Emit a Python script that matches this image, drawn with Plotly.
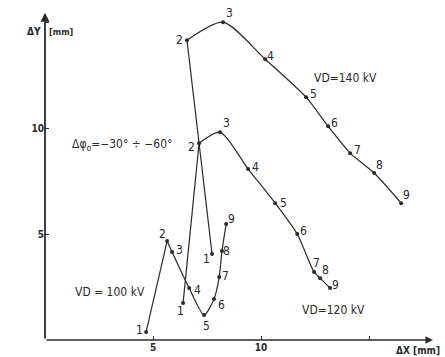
import plotly.graph_objects as go

# ---- data ----
point_ids = [1, 2, 3, 4, 5, 6, 7, 8, 9]

vd100_x = [4.68, 5.65, 5.88, 6.67, 7.36, 7.82, 8.06, 8.19, 8.38]
vd100_y = [0.38, 4.67, 4.15, 2.45, 1.18, 1.93, 2.97, 4.20, 5.47]

vd120_x = [6.39, 7.13, 8.10, 9.40, 10.65, 11.67, 12.45, 12.73, 13.19]
vd120_y = [1.75, 9.29, 9.81, 8.07, 6.46, 5.00, 3.21, 2.92, 2.45]

vd140_x = [7.73, 6.57, 8.24, 10.19, 12.08, 13.10, 14.12, 15.23, 16.48]
vd140_y = [4.06, 14.15, 15.00, 13.25, 11.46, 10.09, 8.82, 7.88, 6.46]

x_tickvals = [5, 10, 15]
x_ticktext = ["<b>5</b>", "<b>10</b>", ""]
y_tickvals = [5, 10, 15]
y_ticktext = ["<b>5</b>", "<b>10</b>", ""]

# label offsets in pixels (dx, dy screen, dy down positive)
off100 = [(-7, -2), (-5, -7), (7, -2), (8, 2), (2, 11), (7, 6), (6, -1), (5, 0), (5, -5)]
off120 = [(-3, 8), (-8, 4), (6, -9), (7, -2), (8, 0), (6, -3), (2, -9), (5, -8), (5, -3)]
off140 = [(-6, 5), (-7, 0), (6, -9), (5, -3), (7, -3), (6, -3), (7, -3), (5, -8), (5, -8)]

# index where each curve's smooth part begins (straight segment before it)
smooth_from = [2, 1, 1]

INK = "#2a2a2a"
FONT = "DejaVu Sans Condensed, DejaVu Sans, Arial"

fig = go.Figure()
for (xs, ys), k in zip([(vd100_x, vd100_y), (vd120_x, vd120_y), (vd140_x, vd140_y)], smooth_from):
    fig.add_trace(go.Scatter(
        x=xs[:k + 1], y=ys[:k + 1], mode="lines",
        line=dict(color=INK, width=1.2),
        showlegend=False, hoverinfo="skip"))
    fig.add_trace(go.Scatter(
        x=xs[k:], y=ys[k:], mode="lines",
        line=dict(color=INK, width=1.2, shape="spline", smoothing=0.7),
        showlegend=False, hoverinfo="skip"))
    fig.add_trace(go.Scatter(
        x=xs, y=ys, mode="markers",
        marker=dict(color=INK, size=4),
        showlegend=False, hoverinfo="skip"))

ann = []
for xs, ys, offs in [(vd100_x, vd100_y, off100), (vd120_x, vd120_y, off120), (vd140_x, vd140_y, off140)]:
    for pid, x, y, (dx, dy) in zip(point_ids, xs, ys, offs):
        ann.append(dict(x=x, y=y, text=str(pid), showarrow=False,
                        xshift=dx, yshift=-dy,
                        font=dict(size=12, color=INK, family=FONT)))

# axes arrows
ann.append(dict(x=17.95, y=0, ax=0, ay=0, axref="x", ayref="y", xref="x", yref="y",
                showarrow=True, arrowhead=2, arrowsize=1, arrowwidth=1.5, arrowcolor=INK, text=""))
ann.append(dict(x=0, y=15.45, ax=0, ay=0, axref="x", ayref="y", xref="x", yref="y",
                showarrow=True, arrowhead=2, arrowsize=1, arrowwidth=1.8, arrowcolor=INK, text=""))

# axis titles
ann.append(dict(x=0, y=14.55, text="<b>ΔY</b>", showarrow=False, xanchor="right", xshift=-2,
                font=dict(size=10, color=INK, family=FONT)))
ann.append(dict(x=0, y=14.55, text="<b>[mm]</b>", showarrow=False, xanchor="left", xshift=2,
                font=dict(size=9, color=INK, family=FONT)))
ann.append(dict(x=17.25, y=0, text="<b>ΔX [mm]</b>", showarrow=False, yshift=-10,
                font=dict(size=10, color=INK, family=FONT)))

# series / condition texts
ann.append(dict(x=13.9, y=12.35, text="VD=140 kV", showarrow=False,
                font=dict(size=12, color=INK, family=FONT)))
ann.append(dict(x=13.35, y=1.4, text="VD=120 kV", showarrow=False,
                font=dict(size=12, color=INK, family=FONT)))
ann.append(dict(x=3.0, y=2.26, text="VD = 100 kV", showarrow=False,
                font=dict(size=12, color=INK, family=FONT)))
ann.append(dict(x=3.55, y=9.2, text="Δφ<sub>o</sub>=−30° ÷ −60°", showarrow=False,
                font=dict(size=12, color=INK, family=FONT)))

fig.update_layout(
    width=445, height=357,
    margin=dict(l=45, r=11, t=1, b=17),
    paper_bgcolor="white", plot_bgcolor="white",
    annotations=ann,
    xaxis=dict(range=[0, 18], showgrid=False, zeroline=False, showline=False, automargin=False,
               tickvals=x_tickvals, ticktext=x_ticktext, ticks="inside", ticklen=4,
               tickcolor=INK, tickfont=dict(size=10, color=INK, family=FONT)),
    yaxis=dict(range=[0, 16], showgrid=False, zeroline=False, showline=False, automargin=False,
               tickvals=y_tickvals, ticktext=y_ticktext, ticks="inside", ticklen=4,
               tickcolor=INK, tickfont=dict(size=10, color=INK, family=FONT)),
)

fig.write_html("out.html", config={"displayModeBar": False},
               post_script="document.body.style.margin='0';")
